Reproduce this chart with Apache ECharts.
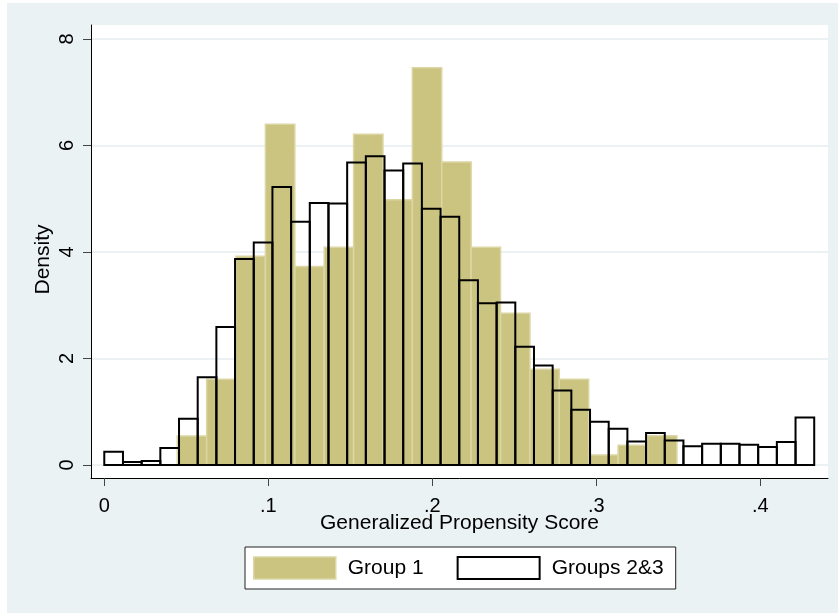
<!DOCTYPE html>
<html>
<head>
<meta charset="utf-8">
<script src="https://cdn.jsdelivr.net/npm/echarts@6/dist/echarts.min.js"></script>
<style>
  html, body { margin: 0; padding: 0; background: #ffffff; }
  #bg { position: absolute; left: 7px; top: 3px; width: 831px; height: 610px; background: #eaf2f3; }
  #chart { position: absolute; left: 0; top: 0; width: 838px; height: 613px; }
</style>
</head>
<body>
<div id="bg"></div>
<div id="chart"></div>
<script>
// ---- data ----
const seriesNames = ['Group 1', 'Groups 2&3'];

// Group 1 histogram (17 bins)
const g1BinStart = 0.0445;
const g1BinWidth = 0.01792;
const g1Density = [0.545, 1.61, 3.92, 6.40, 3.73, 4.09, 6.21, 4.98, 7.46, 5.69,
                   4.09, 2.85, 1.80, 1.61, 0.19, 0.37, 0.55];

// Groups 2&3 histogram (38 bins)
const g23BinStart = 0.0;
const g23BinWidth = 0.011392;
const g23Density = [0.25, 0.056, 0.075, 0.32, 0.87, 1.65, 2.59, 3.87, 4.18, 5.22,
                    4.57, 4.92, 4.91, 5.68, 5.80, 5.53, 5.66, 4.81, 4.66, 3.47,
                    3.04, 3.05, 2.22, 1.87, 1.40, 1.04, 0.81, 0.68, 0.44, 0.60,
                    0.46, 0.35, 0.40, 0.40, 0.38, 0.34, 0.43, 0.89];

const xTickValues = [0, 0.1, 0.2, 0.3, 0.4];
const xTickLabels = ['0', '.1', '.2', '.3', '.4'];
const yTickValues = [0, 2, 4, 6, 8];
const yTickLabels = ['0', '2', '4', '6', '8'];

const xTitle = 'Generalized Propensity Score';
const yTitle = 'Density';

// ---- build ----
function bins(start, width, dens) {
  return dens.map((h, i) => [start + i * width, start + (i + 1) * width, h]);
}
function lookup(vals, labels, v) {
  for (let i = 0; i < vals.length; i++) if (Math.abs(vals[i] - v) < 1e-9) return labels[i];
  return '';
}

const FONT = "'Liberation Sans', Arial, sans-serif";
const KHAKI = '#cbc481';
const KHAKI_EDGE = '#dbd6a4';

function rectRenderer(style) {
  return function (params, api) {
    const p0 = api.coord([api.value(0), api.value(2)]);
    const p1 = api.coord([api.value(1), 0]);
    return {
      type: 'rect',
      shape: { x: p0[0], y: p0[1], width: p1[0] - p0[0], height: p1[1] - p0[1] },
      style: style
    };
  };
}

const chart = echarts.init(document.getElementById('chart'), null, { renderer: 'canvas' });
chart.setOption({
  backgroundColor: 'transparent',
  animation: false,
  textStyle: { fontFamily: FONT },
  grid: {
    left: 91, right: 10, top: 25, bottom: 135,
    show: true, backgroundColor: '#ffffff', borderWidth: 0
  },
  xAxis: {
    type: 'value',
    min: -0.0081, max: 0.4413,
    name: xTitle,
    nameLocation: 'middle',
    nameGap: 35,
    nameMoveOverlap: false,
    nameTextStyle: { fontSize: 21, color: '#000', fontFamily: FONT },
    axisLine: { show: true, onZero: false, lineStyle: { color: '#000', width: 1 } },
    axisTick: { show: true, length: 8, customValues: xTickValues, lineStyle: { color: '#444', width: 1 } },
    axisLabel: {
      customValues: xTickValues, margin: 18, fontSize: 20, color: '#000', fontFamily: FONT,
      formatter: v => lookup(xTickValues, xTickLabels, v)
    },
    splitLine: { show: false }
  },
  yAxis: {
    type: 'value',
    min: -0.244, max: 8.263,
    name: yTitle,
    nameLocation: 'middle',
    nameRotate: 90,
    nameGap: 37,
    nameMoveOverlap: false,
    nameTextStyle: { fontSize: 21, color: '#000', fontFamily: FONT, padding: [0, 16, 0, 0] },
    axisLine: { show: true, onZero: false, lineStyle: { color: '#000', width: 1 } },
    axisTick: { show: true, length: 8, customValues: yTickValues, lineStyle: { color: '#444', width: 1 } },
    axisLabel: {
      customValues: yTickValues, rotate: 90, margin: 14, fontSize: 20, color: '#000', fontFamily: FONT,
      formatter: v => lookup(yTickValues, yTickLabels, v)
    },
    splitLine: { show: true, lineStyle: { color: '#e6eef0', width: 1.5 } }
  },
  legend: {
    show: true,
    left: 245, top: 547,
    orient: 'horizontal',
    padding: [9, 12, 9, 8],
    itemWidth: 82, itemHeight: 22, itemGap: 33,
    backgroundColor: '#ffffff',
    borderColor: '#222', borderWidth: 1, borderRadius: 0,
    selectedMode: false,
    formatter: '{a|{name}}',
    textStyle: {
      fontSize: 21, color: '#000', fontFamily: FONT,
      rich: { a: { padding: [0, 0, 0, 7], fontSize: 21, color: '#000', fontFamily: FONT } }
    },
    data: [
      { name: seriesNames[0], icon: 'rect', itemStyle: { color: KHAKI, borderColor: KHAKI_EDGE, borderWidth: 1.5 } },
      { name: seriesNames[1], icon: 'rect', itemStyle: { color: '#ffffff', borderColor: '#000', borderWidth: 2 } }
    ]
  },
  series: [
    {
      name: seriesNames[0],
      type: 'custom',
      renderItem: rectRenderer({ fill: KHAKI, stroke: KHAKI_EDGE, lineWidth: 1.5 }),
      encode: { x: [0, 1], y: 2 },
      itemStyle: { color: KHAKI },
      data: bins(g1BinStart, g1BinWidth, g1Density),
      z: 2
    },
    {
      name: seriesNames[1],
      type: 'custom',
      renderItem: rectRenderer({ fill: 'none', stroke: '#000', lineWidth: 2 }),
      encode: { x: [0, 1], y: 2 },
      itemStyle: { color: '#ffffff', borderColor: '#000' },
      data: bins(g23BinStart, g23BinWidth, g23Density),
      z: 3
    }
  ]
});
</script>
</body>
</html>
